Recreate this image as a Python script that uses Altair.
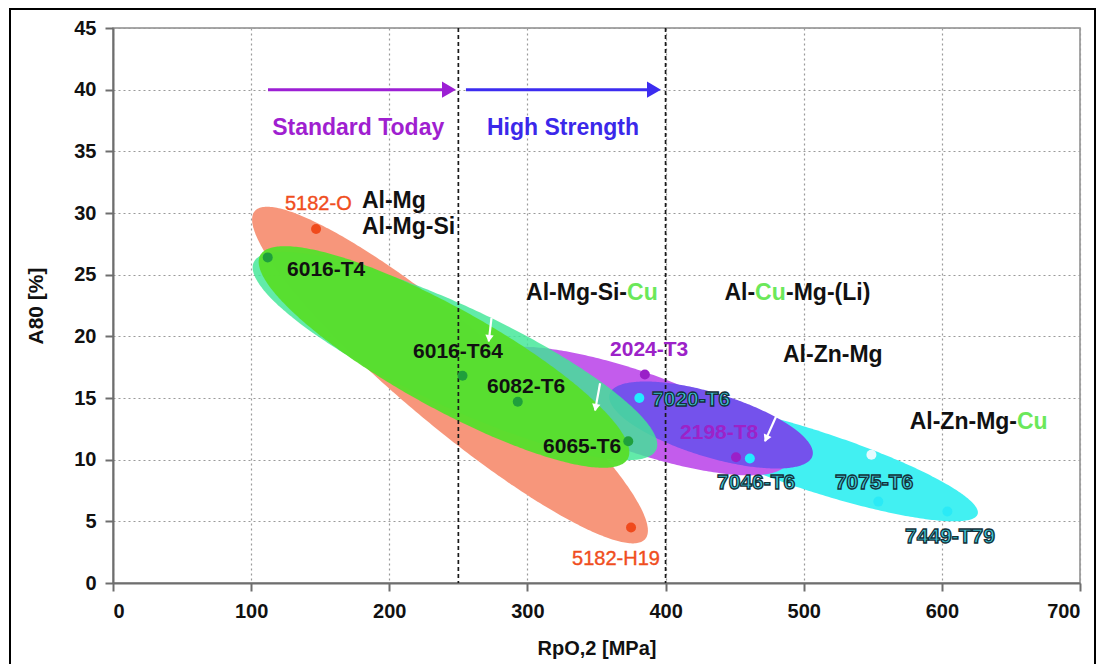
import altair as alt
import numpy as np
import pandas as pd

# ------------------------------------------------------------------ data
x_ticks = [0, 100, 200, 300, 400, 500, 600, 700]
y_ticks = [0, 5, 10, 15, 20, 25, 30, 35, 40, 45]

alloy = ["5182-O", "5182-H19", "6016-T4", "6016-T64", "6082-T6", "6065-T6",
         "2024-T3", "2198-T8", "7020-T6", "7046-T6", "7075-T6", "7449-T79", "ref"]
rp02 = [147, 375, 112, 253, 293, 373, 385, 451, 381, 461, 554, 604, 549]
a80 = [28.7, 4.5, 26.4, 16.8, 14.7, 11.5, 16.9, 10.2, 15.0, 10.1, 6.6, 5.8, 10.4]
family = ["Al-Mg", "Al-Mg", "Al-Mg-Si", "Al-Mg-Si", "Al-Mg-Si", "Al-Mg-Si",
          "Al-Cu-Mg-(Li)", "Al-Cu-Mg-(Li)", "Al-Zn-Mg", "Al-Zn-Mg",
          "Al-Zn-Mg-Cu", "Al-Zn-Mg-Cu", "ref"]

# envelopes: long-axis end points (data units), drawing order
env_name = ["Al-Mg", "Al-Zn-Mg-Cu", "Al-Cu-Mg-(Li)", "Al-Zn-Mg", "Al-Mg-Si-Cu", "Al-Mg-Si"]
env_x0 = [102.6, 389.0, 268.4, 359.5, 101.9, 106.6]
env_y0 = [30.15, 14.21, 18.17, 15.32, 26.01, 26.58]
env_x1 = [385.3, 625.9, 487.4, 506.3, 393.2, 372.6]
env_y1 = [3.57, 5.58, 9.72, 10.30, 10.80, 10.07]

# sample labels (left edge, centre)
lab_text = ["6016-T4", "6016-T64", "6082-T6", "6065-T6",
            "5182-O", "5182-H19", "2024-T3", "2198-T8",
            "7020-T6", "7046-T6", "7075-T6", "7449-T79"]
lab_x = [126.0, 217.2, 270.7, 311.3, 124.5, 332.3, 359.8, 410.5, 390.2, 437.2, 522.6, 573.3]
lab_y = [25.4, 18.7, 15.9, 11.0, 30.7, 1.95, 18.9, 12.2, 14.8, 8.1, 8.1, 3.73]
lab_kind = ["black", "black", "black", "black", "orange", "orange", "purple", "purple",
            "cyan", "cyan", "cyan", "cyan"]

# family labels
fam_left_text = ["Al-Mg", "Al-Mg-Si", "Al-Zn-Mg", "-Mg-(Li)"]
fam_left_x = [180.2, 180.2, 485.0, 487.2]
fam_left_y = [31.0, 28.9, 18.5, 23.5]
fam_right_text = ["Al-Mg-Si-", "Al-Zn-Mg-", "Al-"]
cu_x = [372.1, 654.4, 464.8]
cu_y = [23.5, 13.05, 23.5]

# strength class arrows
cls_text = ["Standard Today", "High Strength"]
cls_x0 = [112.2, 255.5]
cls_x1 = [249.0, 397.4]
cls_y = [40, 40]
cls_label_x = [115.2, 270.7]
cls_label_y = [36.9, 36.9]

# white pointer arrows
wa_x0 = [274.0, 352.6, 481.2]
wa_y0 = [21.5, 16.2, 13.8]
wa_x1 = [272.0, 349.0, 472.0]
wa_y1 = [19.6, 14.0, 11.5]

# --------------------------------------------------------------- styles
W, H = 967, 555
X_MAX, Y_MAX = 700, 45
KX, KY = W / X_MAX, H / Y_MAX
FONT = "Liberation Sans"

env_half = {"Al-Mg": 50, "Al-Zn-Mg-Cu": 30, "Al-Cu-Mg-(Li)": 40,
            "Al-Zn-Mg": 32, "Al-Mg-Si-Cu": 50, "Al-Mg-Si": 50}
env_color = {"Al-Mg": "#f7967b", "Al-Zn-Mg-Cu": "#42f0f2", "Al-Cu-Mg-(Li)": "#c35cec",
             "Al-Zn-Mg": "#7452ec", "Al-Mg-Si-Cu": "#3fe696", "Al-Mg-Si": "#58de2c"}
env_opacity = {"Al-Mg": 1.0, "Al-Zn-Mg-Cu": 1.0, "Al-Cu-Mg-(Li)": 1.0,
               "Al-Zn-Mg": 1.0, "Al-Mg-Si-Cu": 0.82, "Al-Mg-Si": 0.97}

pt_dom = ["Al-Mg", "Al-Mg-Si", "Al-Cu-Mg-(Li)", "Al-Zn-Mg", "Al-Zn-Mg-Cu", "ref"]
pt_rng = ["#f04a1c", "#1f9f3c", "#9a1fc8", "#22ecff", "#2aeaf6", "#e6fbff"]

xs = alt.Scale(domain=[0, X_MAX], nice=False, zero=False)
ys = alt.Scale(domain=[0, Y_MAX], nice=False, zero=False)

AX_X = alt.Axis(values=x_ticks, grid=True, gridDash=[2, 3], gridColor="#9a9a9a", gridWidth=1.2,
                domainColor="#6e6e6e", domainWidth=2, tickColor="#6e6e6e", tickWidth=2, tickSize=8,
                labelFont=FONT, labelFontSize=20, labelFontWeight="bold", labelColor="#111",
                labelPadding=10,
                titleFont=FONT, titleFontSize=20, titleFontWeight="bold", titleColor="#111",
                titlePadding=17)
AX_Y = alt.Axis(values=y_ticks, grid=True, gridDash=[2, 3], gridColor="#9a9a9a", gridWidth=1.2,
                domainColor="#6e6e6e", domainWidth=2, tickColor="#6e6e6e", tickWidth=2, tickSize=8,
                labelFont=FONT, labelFontSize=20, labelFontWeight="bold", labelColor="#111",
                labelPadding=9,
                titleFont=FONT, titleFontSize=21, titleFontWeight="bold", titleColor="#111",
                titlePadding=27)


def X(field):
    return alt.X(field, type="quantitative", scale=xs, axis=AX_X, title="RpO,2 [MPa]")


def Y(field):
    return alt.Y(field, type="quantitative", scale=ys, axis=AX_Y, title="A80 [%]")


def envelope(x0, y0, x1, y1, half, n=181):
    p0 = np.array([x0 * KX, (Y_MAX - y0) * KY])
    p1 = np.array([x1 * KX, (Y_MAX - y1) * KY])
    c = (p0 + p1) / 2
    d = p1 - p0
    a = np.hypot(d[0], d[1]) / 2
    th = np.arctan2(d[1], d[0])
    cs, sn = np.cos(th), np.sin(th)
    b = half
    R = np.sqrt(a * a * cs * cs + b * b * sn * sn)
    t = np.linspace(0, np.pi, n)
    Xp = -R * np.cos(t)
    A = sn * sn / a ** 2 + cs * cs / b ** 2
    B = 2 * Xp * cs * sn * (1 / a ** 2 - 1 / b ** 2)
    C = Xp * Xp * (cs * cs / a ** 2 + sn * sn / b ** 2) - 1
    disc = np.clip(B * B - 4 * A * C, 0, None)
    ya = (-B - np.sqrt(disc)) / (2 * A)
    yb = (-B + np.sqrt(disc)) / (2 * A)
    return pd.DataFrame({"x": (c[0] + Xp) / KX,
                         "top": Y_MAX - (c[1] + ya) / KY,
                         "bot": Y_MAX - (c[1] + yb) / KY})


layers = []
for i, nm in enumerate(env_name):
    df = envelope(env_x0[i], env_y0[i], env_x1[i], env_y1[i], env_half[nm])
    layers.append(alt.Chart(df).mark_area(color=env_color[nm], opacity=env_opacity[nm],
                                          interpolate="linear")
                  .encode(x=X("x"), y=Y("top"), y2="bot"))

# dashed class boundaries
layers.append(alt.Chart(pd.DataFrame({"x": [250, 400]})).mark_rule(
    color="#1a1a1a", strokeDash=[4, 3], strokeWidth=1.7).encode(x=X("x")))

# white pointer arrows
wa = pd.DataFrame({"x0": wa_x0, "y0": wa_y0, "x1": wa_x1, "y1": wa_y1})
dxp = (wa["x1"] - wa["x0"]) * KX
dyp = -(wa["y1"] - wa["y0"]) * KY
L = np.hypot(dxp, dyp)
wa["ang"] = (np.degrees(np.arctan2(dxp, -dyp)) + 360) % 360
wa["hx"] = wa["x1"] - dxp / L * 4 / KX
wa["hy"] = wa["y1"] + dyp / L * 4 / KY
layers.append(alt.Chart(wa).mark_rule(color="white", strokeWidth=2.2).encode(
    x=X("x0"), y=Y("y0"), x2="x1", y2="y1"))
layers.append(alt.Chart(wa).mark_point(shape="triangle", filled=True, color="white",
                                       opacity=1, size=70).encode(
    x=X("hx"), y=Y("hy"), angle=alt.Angle("ang:Q", scale=None)))

# alloy points
pts = pd.DataFrame({"alloy": alloy, "x": rp02, "y": a80, "family": family})
layers.append(alt.Chart(pts).mark_circle(size=100, opacity=1).encode(
    x=X("x"), y=Y("y"),
    color=alt.Color("family:N", scale=alt.Scale(domain=pt_dom, range=pt_rng), legend=None)))

# sample labels
labs = pd.DataFrame({"t": lab_text, "x": lab_x, "y": lab_y, "k": lab_kind})
lab_style = {
    "black": dict(font=FONT, fontSize=21, fontWeight="bold", color="#111"),
    "orange": dict(font=FONT, fontSize=20, fontWeight="normal", color="#f04e1e",
                   stroke="#f04e1e", strokeWidth=0.4),
    "purple": dict(font=FONT, fontSize=21, fontWeight="bold", color="#9c22c8"),
    "cyan": dict(font=FONT, fontSize=21, fontWeight="bold", fill="#3ec8d8",
                 stroke="#143038", strokeWidth=1.3),
}
for k, st in lab_style.items():
    layers.append(alt.Chart(labs[labs["k"] == k]).mark_text(
        align="left", baseline="middle", **st).encode(x=X("x"), y=Y("y"), text="t:N"))

# family labels
fl = pd.DataFrame({"t": fam_left_text, "x": fam_left_x, "y": fam_left_y})
layers.append(alt.Chart(fl).mark_text(align="left", baseline="middle", font=FONT, fontSize=23,
                                      fontWeight="bold", color="#111").encode(
    x=X("x"), y=Y("y"), text="t:N"))
fr = pd.DataFrame({"t": fam_right_text, "x": cu_x, "y": cu_y})
layers.append(alt.Chart(fr).mark_text(align="right", baseline="middle", font=FONT, fontSize=23,
                                      fontWeight="bold", color="#111").encode(
    x=X("x"), y=Y("y"), text="t:N"))
cu = pd.DataFrame({"t": ["Cu"] * len(cu_x), "x": cu_x, "y": cu_y})
layers.append(alt.Chart(cu).mark_text(align="left", baseline="middle", font=FONT, fontSize=23,
                                      fontWeight="bold", color="#6be85a").encode(
    x=X("x"), y=Y("y"), text="t:N"))

# strength class arrows & labels
cls = pd.DataFrame({"t": cls_text, "x0": cls_x0, "x1": cls_x1, "y": cls_y,
                    "lx": cls_label_x, "ly": cls_label_y})
cls["xe"] = cls["x1"] - 12 / KX
cls["hx"] = cls["x1"] - 8 / KX
cls_dom = cls_text
cls_rng_line = ["#9c1fd4", "#3c2cf0"]
cls_rng_text = ["#a01fd0", "#3b28ea"]
layers.append(alt.Chart(cls).mark_rule(strokeWidth=3).encode(
    x=X("x0"), x2="xe", y=Y("y"),
    color=alt.Color("t:N", scale=alt.Scale(domain=cls_dom, range=cls_rng_line), legend=None)))
layers.append(alt.Chart(cls).mark_point(shape="triangle-right", filled=True, size=260,
                                        opacity=1).encode(
    x=X("hx"), y=Y("y"),
    color=alt.Color("t:N", scale=alt.Scale(domain=cls_dom, range=cls_rng_line), legend=None)))
layers.append(alt.Chart(cls).mark_text(align="left", baseline="middle", font=FONT, fontSize=23,
                                       fontWeight="bold").encode(
    x=X("lx"), y=Y("ly"), text="t:N",
    color=alt.Color("t:N", scale=alt.Scale(domain=cls_dom, range=cls_rng_text), legend=None)))

# outer frame of the figure
layers.append(alt.Chart(pd.DataFrame({"k": [0]})).mark_rect(
    fillOpacity=0, stroke="#000", strokeWidth=2).encode(
    x=alt.value(-103), x2=alt.value(982), y=alt.value(-19), y2=alt.value(700)))

chart = alt.layer(*layers).resolve_scale(color="independent").properties(
    width=W, height=H,
    autosize=alt.AutoSizeParams(type="none"),
    padding={"left": 105, "top": 20, "right": 17, "bottom": 81},
    background="white",
).configure_view(stroke="#8a8a8a", strokeWidth=1.5)

chart.save("out.html", embed_options={"renderer": "svg", "actions": False})
